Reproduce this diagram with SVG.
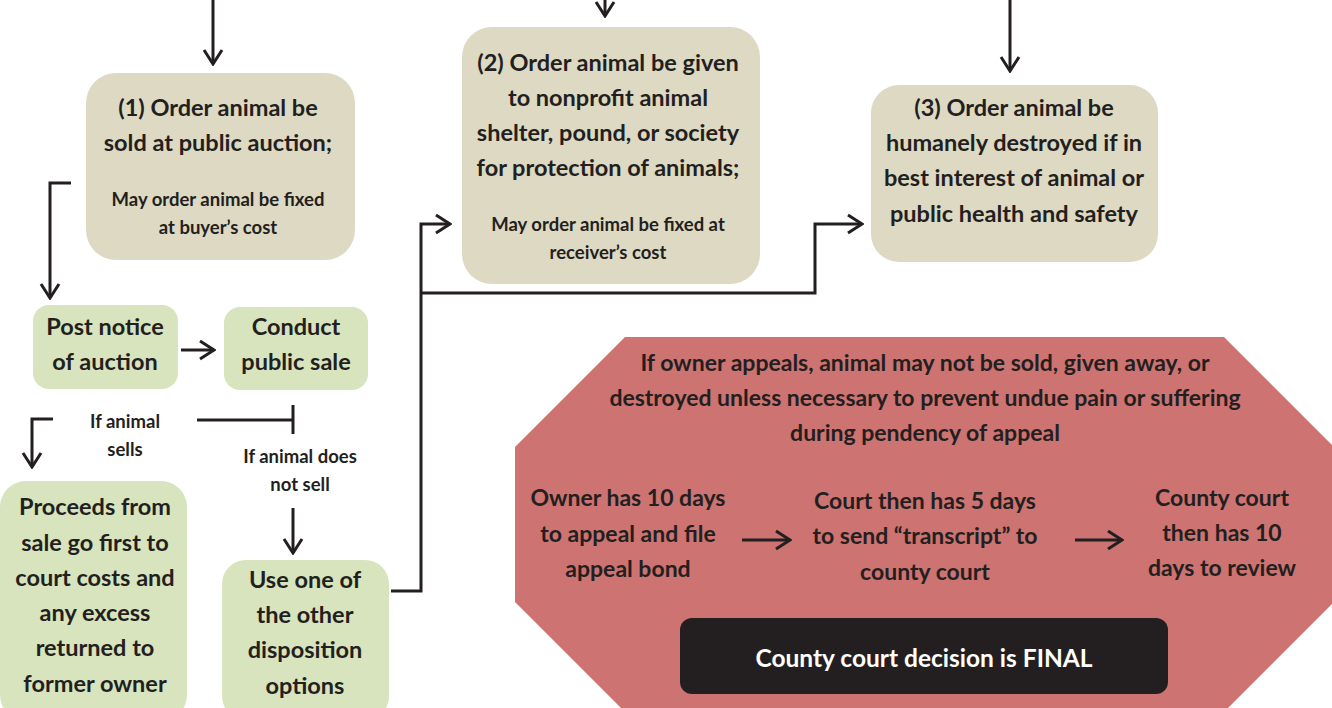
<svg xmlns="http://www.w3.org/2000/svg" width="1332" height="708" viewBox="0 0 1332 708">
  <style>
    .t { font-family: Lato, "Open Sans", "Liberation Sans", sans-serif; font-weight: 700; fill: #231F20; text-anchor: middle; }
    .big { font-size: 23.5px; }
    .sm { font-size: 18.5px; }
    .mid { font-size: 23px; }
    .tan { fill: #DDD9C3; }
    .green { fill: #D7E4BD; }
    .ln { fill: none; stroke: #231F20; stroke-width: 3; }
  </style>
  <defs>
    <marker id="arr" markerUnits="userSpaceOnUse" markerWidth="18" markerHeight="22" viewBox="0 0 18 22" refX="16" refY="11" orient="auto">
      <path d="M2,2 L16,11 L2,20" fill="none" stroke="#231F20" stroke-width="3"/>
    </marker>
  </defs>

  <!-- appeal octagon -->
  <g id="appeal">
    <polygon points="625,337 1224,337 1334,447 1334,602 1228,708 621,708 515,602 515,447" fill="#CD7371"/>
    <text class="t mid" x="925" y="371">If owner appeals, animal may not be sold, given away, or</text>
    <text class="t mid" x="925" y="406">destroyed unless necessary to prevent undue pain or suffering</text>
    <text class="t mid" x="925" y="441">during pendency of appeal</text>
  </g>
  <g id="owner-appeal">
    <text class="t mid" x="628" y="506">Owner has 10 days</text>
    <text class="t mid" x="628" y="542">to appeal and file</text>
    <text class="t mid" x="628" y="577">appeal bond</text>
  </g>
  <g id="transcript">
    <text class="t mid" x="925" y="509">Court then has 5 days</text>
    <text class="t mid" x="925" y="544">to send “transcript” to</text>
    <text class="t mid" x="925" y="580">county court</text>
  </g>
  <g id="review">
    <text class="t mid" x="1222" y="506">County court</text>
    <text class="t mid" x="1222" y="541">then has 10</text>
    <text class="t mid" x="1222" y="576">days to review</text>
  </g>
  <g id="final">
    <rect x="680" y="618" width="488" height="76" rx="12" fill="#231F20"/>
    <text class="t" x="924" y="667" style="fill:#FFFFFF;font-size:24.5px">County court decision is FINAL</text>
  </g>

  <!-- option 1 -->
  <g id="option1">
    <rect class="tan" x="86" y="73" width="269" height="187" rx="30"/>
    <text class="t big" x="218" y="116">(1) Order animal be</text>
    <text class="t big" x="218" y="151">sold at public auction;</text>
    <text class="t sm" x="218" y="206">May order animal be fixed</text>
    <text class="t sm" x="218" y="234">at buyer’s cost</text>
  </g>
  <!-- option 2 -->
  <g id="option2">
    <rect class="tan" x="462" y="27" width="298" height="257" rx="30"/>
    <text class="t big" x="608" y="71">(2) Order animal be given</text>
    <text class="t big" x="608" y="106">to nonprofit animal</text>
    <text class="t big" x="608" y="141">shelter, pound, or society</text>
    <text class="t big" x="608" y="176">for protection of animals;</text>
    <text class="t sm" x="608" y="231">May order animal be fixed at</text>
    <text class="t sm" x="608" y="259">receiver’s cost</text>
  </g>
  <!-- option 3 -->
  <g id="option3">
    <rect class="tan" x="871" y="85" width="287" height="177" rx="28"/>
    <text class="t big" x="1014" y="116">(3) Order animal be</text>
    <text class="t big" x="1014" y="151">humanely destroyed if in</text>
    <text class="t big" x="1014" y="186">best interest of animal or</text>
    <text class="t big" x="1014" y="222">public health and safety</text>
  </g>

  <!-- auction steps -->
  <g id="post-notice">
    <rect class="green" x="33" y="305" width="145" height="84" rx="16"/>
    <text class="t big" x="105" y="335">Post notice</text>
    <text class="t big" x="105" y="370">of auction</text>
  </g>
  <g id="public-sale">
    <rect class="green" x="224" y="307" width="144" height="83" rx="16"/>
    <text class="t big" x="296" y="335">Conduct</text>
    <text class="t big" x="296" y="370">public sale</text>
  </g>
  <g id="sells-label">
    <text class="t sm" x="125" y="428">If animal</text>
    <text class="t sm" x="125" y="456">sells</text>
  </g>
  <g id="not-sell-label">
    <text class="t sm" x="300" y="463">If animal does</text>
    <text class="t sm" x="300" y="491">not sell</text>
  </g>
  <g id="proceeds">
    <rect class="green" x="0" y="481" width="187" height="240" rx="26"/>
    <text class="t big" x="95" y="515">Proceeds from</text>
    <text class="t big" x="95" y="551">sale go first to</text>
    <text class="t big" x="95" y="586">court costs and</text>
    <text class="t big" x="95" y="621">any excess</text>
    <text class="t big" x="95" y="656">returned to</text>
    <text class="t big" x="95" y="692">former owner</text>
  </g>
  <g id="other-options">
    <rect class="green" x="222" y="560" width="167" height="160" rx="24"/>
    <text class="t big" x="305" y="588">Use one of</text>
    <text class="t big" x="305" y="623">the other</text>
    <text class="t big" x="305" y="658">disposition</text>
    <text class="t big" x="305" y="694">options</text>
  </g>

  <!-- connectors -->
  <g id="connectors">
    <line class="ln" x1="213" y1="0" x2="213" y2="64" marker-end="url(#arr)"/>
    <line class="ln" x1="605" y1="0" x2="605" y2="16" marker-end="url(#arr)"/>
    <line class="ln" x1="1010" y1="0" x2="1010" y2="71" marker-end="url(#arr)"/>
    <polyline class="ln" points="71,183 50,183 50,298" marker-end="url(#arr)"/>
    <line class="ln" x1="181" y1="350" x2="214" y2="350" marker-end="url(#arr)"/>
    <polyline class="ln" points="53,419 32,419 32,467" marker-end="url(#arr)"/>
    <line class="ln" x1="197" y1="420" x2="293" y2="420"/>
    <line class="ln" x1="293" y1="405" x2="293" y2="434"/>
    <line class="ln" x1="293" y1="508" x2="293" y2="553" marker-end="url(#arr)"/>
    <polyline class="ln" points="391,591 421,591 421,224 450,224" marker-end="url(#arr)"/>
    <polyline class="ln" points="421,293 815,293 815,224 862,224" marker-end="url(#arr)"/>
    <line class="ln" x1="742" y1="540" x2="790" y2="540" marker-end="url(#arr)"/>
    <line class="ln" x1="1075" y1="540" x2="1122" y2="540" marker-end="url(#arr)"/>
  </g>
</svg>
